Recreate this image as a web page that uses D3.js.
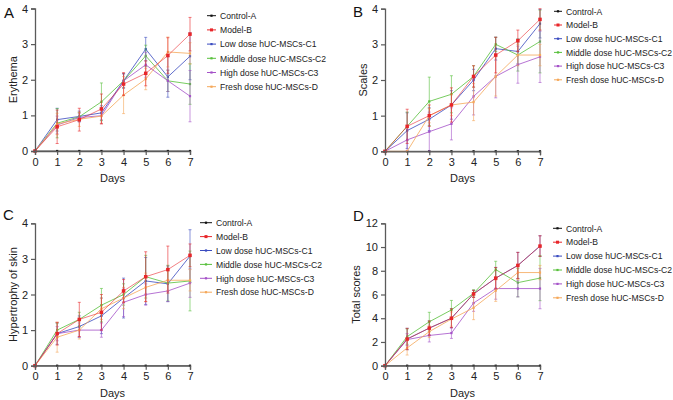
<!DOCTYPE html>
<html><head><meta charset="utf-8">
<script src="https://cdn.jsdelivr.net/npm/d3@7"></script>
<style>body{margin:0;background:#fff}svg{display:block;font-family:"Liberation Sans",Arial,sans-serif}</style>
</head><body><svg id="c" width="673" height="400"></svg>
<script>
const days = [0,1,2,3,4,5,6,7];
const seriesNames = ["Control-A","Model-B","Low dose hUC-MSCs-C1","Middle dose hUC-MSCs-C2","High dose hUC-MSCs-C3","Fresh dose hUC-MSCs-D"];
const seriesColors = ["#111111","#e8262a","#3b4cc0","#58c03c","#a552c8","#f5a85a"];

// Panel A: Erythema
const erythemaA = [0,0,0,0,0,0,0,0];
const erythemaB = [0,0.68,0.88,1.18,1.88,2.18,2.68,3.28];
const erythemaC1 = [0,0.88,0.97,1.07,1.97,2.86,2.08,2.66];
const erythemaC2 = [0,0.78,0.96,1.38,1.97,2.67,1.97,1.88];
const erythemaC3 = [0,0.73,0.94,0.99,1.97,2.42,1.97,1.54];
const erythemaD = [0,0.76,0.89,0.98,1.57,2.02,2.78,2.74];
const erythemaErrA = [0,0,0,0,0,0,0,0];
const erythemaErrB = [0,0.47,0.32,0.42,0.32,0.35,0.5,0.47];
const erythemaErrC1 = [0,0.32,0.15,0.2,0.2,0.33,0.57,0.66];
const erythemaErrC2 = [0,0.41,0.12,0.53,0.2,0.3,0.3,0.57];
const erythemaErrC3 = [0,0.25,0.12,0.22,0.2,0.35,0.3,0.72];
const erythemaErrD = [0,0.3,0.2,0.2,0.52,0.3,0.42,0.3];

// Panel B: Scales
const scalesA = [0,0,0,0,0,0,0,0];
const scalesB = [0,0.7,1.0,1.3,2.1,2.7,3.1,3.7];
const scalesC1 = [0,0.58,0.9,1.3,2.0,2.88,2.8,3.58];
const scalesC2 = [0,0.7,1.4,1.6,2.1,3.0,2.7,3.08];
const scalesC3 = [0,0.32,0.55,0.77,1.54,2.1,2.43,2.65];
const scalesD = [0,0.0,1.0,1.3,1.38,2.1,2.7,2.7];
const scalesErrA = [0,0,0,0,0,0,0,0];
const scalesErrB = [0,0.48,0.3,0.48,0.3,0.5,0.3,0.3];
const scalesErrC1 = [0,0.5,0.32,0.4,0.3,0.32,0.35,0.4];
const scalesErrC2 = [0,0.4,0.68,0.52,0.3,0.2,0.45,0.88];
const scalesErrC3 = [0,0.3,0.55,0.45,0.52,0.6,0.52,0.72];
const scalesErrD = [0,0,0.2,0.3,0.52,0.55,0.3,0.3];

// Panel C: Hypertrophy of skin
const hyperA = [0,0,0,0,0,0,0,0];
const hyperB = [0,0.9,1.3,1.5,2.1,2.5,2.7,3.1];
const hyperC1 = [0,0.9,1.1,1.4,1.9,2.38,2.3,3.08];
const hyperC2 = [0,1.0,1.3,1.7,2.0,2.5,2.32,2.38];
const hyperC3 = [0,0.9,1.0,1.0,1.78,2.0,2.1,2.32];
const hyperD = [0,0.8,1.0,1.6,1.9,2.2,2.4,2.4];
const hyperErrA = [0,0,0,0,0,0,0,0];
const hyperErrB = [0,0.32,0.48,0.5,0.32,0.7,0.66,0.32];
const hyperErrC1 = [0,0.3,0.3,0.5,0.56,0.66,0.5,0.74];
const hyperErrC2 = [0,0.2,0.2,0.47,0.3,0.6,0.5,0.84];
const hyperErrC3 = [0,0.2,0.2,0.2,0.4,0.3,0.3,0.4];
const hyperErrD = [0,0.42,0.25,0.3,0.3,0.4,0.3,0.3];

// Panel D: Total scores
const totalA = [0,0,0,0,0,0,0,0];
const totalB = [0,2.25,3.17,4.0,6.05,7.38,8.45,10.08];
const totalC1 = [0,2.25,3.17,4.0,6.05,7.38,8.45,10.08];
const totalC2 = [0,2.45,3.7,4.7,6.1,8.1,7.0,7.38];
const totalC3 = [0,2.2,2.55,2.75,5.28,6.5,6.5,6.5];
const totalD = [0,1.5,2.87,3.93,4.88,6.32,7.85,7.85];
const totalErrA = [0,0,0,0,0,0,0,0];
const totalErrB = [0,0.9,0.6,0.8,0.3,0.9,1.1,0.87];
const totalErrC1 = [0,0.9,0.6,0.8,0.3,0.9,1.1,0.87];
const totalErrC2 = [0,0.65,0.8,0.8,0.3,0.7,1.2,1.9];
const totalErrC3 = [0,0.5,0.55,0.45,0.7,0.9,0.7,1.7];
const totalErrD = [0,0.6,0.5,0.6,1.0,0.9,0.6,0.6];

const yTicksSmall = [0,1,2,3,4];
const yTicksTotal = [0,2,4,6,8,10,12];

const panels = [
  {label:"A", ytitle:"Erythema", vals:[erythemaA,erythemaB,erythemaC1,erythemaC2,erythemaC3,erythemaD], errs:[erythemaErrA,erythemaErrB,erythemaErrC1,erythemaErrC2,erythemaErrC3,erythemaErrD], ymax:4, yticks:yTicksSmall,
   x0:35, x1:190, y0:151, y1:8.5, lab:[4,18], ytx:17, leg:{mx:207, tx:220, y:15.7, dy:14.2}},
  {label:"B", ytitle:"Scales", vals:[scalesA,scalesB,scalesC1,scalesC2,scalesC3,scalesD], errs:[scalesErrA,scalesErrB,scalesErrC1,scalesErrC2,scalesErrC3,scalesErrD], ymax:4, yticks:yTicksSmall,
   x0:385, x1:540, y0:151.3, y1:8.7, lab:[353,17], ytx:367, leg:{mx:554, tx:566, y:11.3, dy:13.7}},
  {label:"C", ytitle:"Hypertrophy of skin", vals:[hyperA,hyperB,hyperC1,hyperC2,hyperC3,hyperD], errs:[hyperErrA,hyperErrB,hyperErrC1,hyperErrC2,hyperErrC3,hyperErrD], ymax:4, yticks:yTicksSmall,
   x0:35, x1:190, y0:365.7, y1:223.3, lab:[3,220], ytx:17, leg:{mx:200, tx:216, y:222.7, dy:13.9}},
  {label:"D", ytitle:"Total scores", vals:[totalA,totalB,totalC1,totalC2,totalC3,totalD], errs:[totalErrA,totalErrB,totalErrC1,totalErrC2,totalErrC3,totalErrD], ymax:12, yticks:yTicksTotal,
   x0:385, x1:540, y0:365.7, y1:223.3, lab:[353,221], ytx:360, leg:{mx:553, tx:566, y:228.3, dy:13.9}}
];

const svg = d3.select("#c");
const axisColor = "#5a5a5a";
const drawOrder = [0,2,3,4,5,1];

panels.forEach(p => {
  const g = svg.append("g");
  const x = d3.scaleLinear().domain([0,7]).range([p.x0,p.x1]);
  const y = d3.scaleLinear().domain([0,p.ymax]).range([p.y0,p.y1]);

  const line = d3.line().x((d,i)=>x(days[i])).y(d=>y(d));
  drawOrder.forEach(si => {
    const col = seriesColors[si];
    const vals = p.vals[si], errs = p.errs[si];
    const sg = g.append("g");
    days.forEach((dd,i)=>{
      if (!errs[i]) return;
      const xx = x(dd), ya2 = y(vals[i]+errs[i]), yb = y(vals[i]-errs[i]);
      sg.append("line").attr("x1",xx).attr("x2",xx).attr("y1",ya2).attr("y2",yb).attr("stroke",col).attr("stroke-width",0.8).attr("stroke-opacity",0.75);
      [ya2,yb].forEach(yy=>sg.append("line").attr("x1",xx-1.5).attr("x2",xx+1.5).attr("y1",yy).attr("y2",yy).attr("stroke",col).attr("stroke-width",0.8).attr("stroke-opacity",0.75));
    });
    sg.append("path").datum(vals).attr("d",line).attr("fill","none").attr("stroke",col).attr("stroke-width",si===0?0.8:0.9).attr("stroke-opacity",si===1?0.65:0.9);
    const ms = si===1?3.5:2.2;
    sg.selectAll("rect").data(vals).join("rect")
      .attr("x",(d,i)=>x(days[i])-ms/2).attr("y",d=>y(d)-ms/2).attr("width",ms).attr("height",ms).attr("fill",col);
  });

  const xa = g.append("g").attr("transform",`translate(0,${p.y0})`)
    .call(d3.axisBottom(x).tickValues(days).tickSize(4).tickPadding(3).tickFormat(d3.format("d")));
  const ya = g.append("g").attr("transform",`translate(${p.x0},0)`)
    .call(d3.axisLeft(y).tickValues(p.yticks).tickSize(4).tickPadding(3).tickFormat(d3.format("d")));
  [xa,ya].forEach(a=>{
    a.selectAll("path").attr("stroke",axisColor).attr("stroke-width",1.3);
    a.selectAll("line").attr("stroke",axisColor).attr("stroke-width",1.2);
    a.selectAll("text").attr("fill","#222").style("font-size","11px").style("font-family","'Liberation Sans',Arial,sans-serif");
  });

  g.append("text").attr("x",(p.x0+p.x1)/2).attr("y",p.y0+31).attr("text-anchor","middle")
    .attr("fill","#222").style("font-size","11px").text("Days");
  g.append("text").attr("transform",`translate(${p.ytx},${(p.y0+p.y1)/2}) rotate(-90)`).attr("text-anchor","middle")
    .attr("fill","#222").style("font-size","11px").text(p.ytitle);
  g.append("text").attr("x",p.lab[0]).attr("y",p.lab[1]).attr("fill","#111").style("font-size","15px").text(p.label);

  seriesNames.forEach((n,si)=>{
    const ly = p.leg.y + si*p.leg.dy;
    const col = seriesColors[si];
    g.append("line").attr("x1",p.leg.mx).attr("x2",p.leg.tx-4).attr("y1",ly).attr("y2",ly).attr("stroke",col).attr("stroke-width",1);
    const cx = (p.leg.mx+p.leg.tx-4)/2, ms = si===1?3:2.2;
    g.append("rect").attr("x",cx-ms/2).attr("y",ly-ms/2).attr("width",ms).attr("height",ms).attr("fill",col);
    g.append("text").attr("x",p.leg.tx).attr("y",ly+3.2).attr("fill","#222").style("font-size","8.6px").text(n);
  });
});
</script></body></html>
